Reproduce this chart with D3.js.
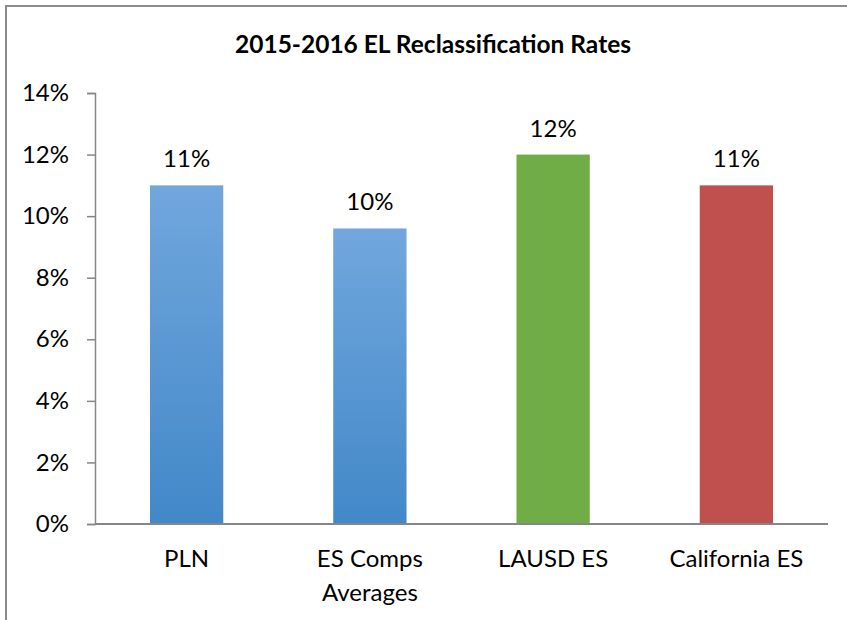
<!DOCTYPE html>
<html lang="en">
<head>
  <meta charset="UTF-8">
  <title>2015-2016 EL Reclassification Rates</title>
  <script src="https://d3js.org/d3.v7.min.js"></script>
  <style>
    html, body {
      margin: 0;
      padding: 0;
      width: 100%;
      height: 100%;
      overflow: hidden;
      background: white;
      font-family: Lato, "Open Sans", sans-serif;
    }
    svg { display: block; }
  </style>
</head>
<body>
<svg width="847" height="620"></svg>

<script>
const categories = ["PLN", "ES Comps Averages", "LAUSD ES", "California ES"];
const values = [0.11, 0.096, 0.12, 0.11];
const valueLabels = ["11%", "10%", "12%", "11%"];
const yTicks = [0, 0.02, 0.04, 0.06, 0.08, 0.10, 0.12, 0.14];

const width = 847;
const height = 620;
const svg = d3.select("svg");

// chart border: only the left and top edges fall inside the crop
svg.append("line")
  .attr("x1", 6).attr("x2", 6)
  .attr("y1", 6).attr("y2", height)
  .attr("stroke", "#8c8c8c")
  .attr("stroke-width", 2);
svg.append("line")
  .attr("x1", 5).attr("x2", width)
  .attr("y1", 6).attr("y2", 6)
  .attr("stroke", "#8c8c8c")
  .attr("stroke-width", 2);

const x = d3.scaleBand()
  .domain(categories)
  .range([95, 828])
  .paddingInner(0.6)
  .paddingOuter(0.3);

const y = d3.scaleLinear()
  .domain([0, 0.14])
  .range([524, 93]);

// bar fills
const defs = svg.append("defs");
const blue = defs.append("linearGradient")
  .attr("id", "blueGrad")
  .attr("x1", 0).attr("y1", 0).attr("x2", 0).attr("y2", 1);
blue.append("stop").attr("offset", "0%").attr("stop-color", "#71a7dd");
blue.append("stop").attr("offset", "100%").attr("stop-color", "#4288c8");

const fills = ["url(#blueGrad)", "url(#blueGrad)", "#70ad47", "#c0504d"];

svg.append("text")
  .attr("x", 433)
  .attr("y", 53)
  .attr("text-anchor", "middle")
  .attr("font-size", "24.5px")
  .attr("font-weight", "bold")
  .attr("fill", "#000")
  .text("2015-2016 EL Reclassification Rates");

// y axis
const yAxis = svg.append("g")
  .attr("transform", "translate(95,0)")
  .call(d3.axisLeft(y).tickValues(yTicks).tickSize(8).tickPadding(18)
    .tickFormat(d3.format(".0%")));
yAxis.selectAll("line, path").attr("stroke", "#868686").attr("stroke-width", 1.5);
yAxis.selectAll("text")
  .attr("font-size", "24px")
  .attr("font-family", "Lato, sans-serif")
  .attr("fill", "#000");

// bars
svg.append("g")
  .selectAll("rect")
  .data(values)
  .join("rect")
  .attr("x", (d, i) => x(categories[i]))
  .attr("y", d => y(d))
  .attr("width", x.bandwidth())
  .attr("height", d => y(0) - y(d))
  .attr("fill", (d, i) => fills[i]);

// x axis baseline
svg.append("line")
  .attr("x1", 95).attr("x2", 828)
  .attr("y1", y(0)).attr("y2", y(0))
  .attr("stroke", "#868686")
  .attr("stroke-width", 2);

// value labels
svg.append("g")
  .selectAll("text")
  .data(values)
  .join("text")
  .attr("x", (d, i) => x(categories[i]) + x.bandwidth() / 2)
  .attr("y", d => y(d) - 18)
  .attr("text-anchor", "middle")
  .attr("font-size", "24px")
  .attr("fill", "#000")
  .text((d, i) => valueLabels[i]);

// category labels, wrapped like the original
const catLines = {
  "PLN": ["PLN"],
  "ES Comps Averages": ["ES Comps", "Averages"],
  "LAUSD ES": ["LAUSD ES"],
  "California ES": ["California ES"]
};
categories.forEach(c => {
  const t = svg.append("text")
    .attr("text-anchor", "middle")
    .attr("font-size", "24px")
    .attr("fill", "#000");
  catLines[c].forEach((line, j) => {
    t.append("tspan")
      .attr("x", x(c) + x.bandwidth() / 2)
      .attr("y", 567 + j * 34)
      .text(line);
  });
});
</script>
</body>
</html>
